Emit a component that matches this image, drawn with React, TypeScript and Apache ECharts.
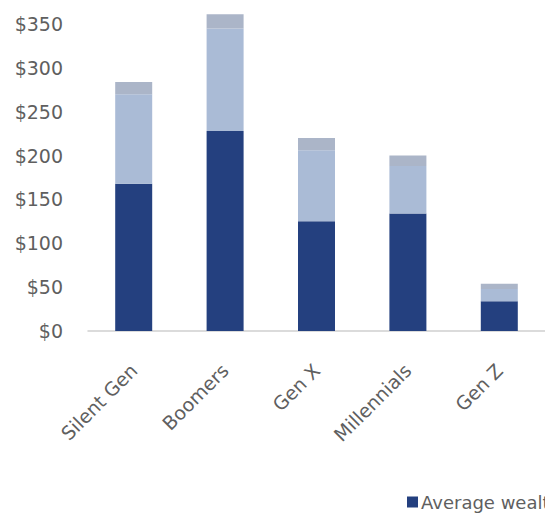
import React, { useEffect, useRef } from "react";
import * as echarts from "echarts";

const categories = ["Silent Gen", "Boomers", "Gen X", "Millennials", "Gen Z"];
const averageWealth = [168, 228, 125, 134, 34];
const upperSegment = [102, 117, 81, 54, 14];
const capSegment = [14, 16, 14, 12, 6];
const yTicks = [0, 50, 100, 150, 200, 250, 300, 350];

export default function App() {
  const ref = useRef<HTMLDivElement>(null);
  useEffect(() => {
    const chart = echarts.init(ref.current!, null, { renderer: "svg" });
    const font = "'DejaVu Sans', Verdana, sans-serif";
    chart.setOption({
      animation: false,
      backgroundColor: "#ffffff",
      grid: { left: 88, right: -3, top: 24, bottom: 183, containLabel: false },
      legend: {
        data: ["Average wealth"],
        left: 402,
        top: 488,
        itemWidth: 11,
        itemHeight: 11,
        itemGap: 3,
        icon: "rect",
        textStyle: { color: "#5f5f5f", fontSize: 18, fontFamily: font, padding: [0, 0, 0, -2] },
      },
      xAxis: {
        type: "category",
        data: categories,
        axisLine: { show: true, lineStyle: { color: "#cfcfcf", width: 1.5 } },
        axisTick: { show: false },
        axisLabel: {
          rotate: 45,
          margin: 36,
          color: "#5f5f5f",
          fontSize: 19,
          fontFamily: font,
        },
      },
      yAxis: {
        type: "value",
        min: 0,
        max: yTicks[yTicks.length - 1],
        interval: 50,
        splitLine: { show: false },
        axisLine: { show: false },
        axisTick: { show: false },
        axisLabel: {
          margin: 25,
          color: "#5f5f5f",
          fontSize: 19,
          fontFamily: font,
          formatter: (v: number) => "$" + v,
        },
      },
      series: [
        {
          name: "Average wealth",
          type: "bar",
          stack: "w",
          data: averageWealth,
          barWidth: 37,
          clip: false,
          itemStyle: { color: "#24407f" },
        },
        {
          name: "Upper",
          type: "bar",
          stack: "w",
          data: upperSegment,
          barWidth: 37,
          clip: false,
          itemStyle: { color: "#aabbd6" },
        },
        {
          name: "Cap",
          type: "bar",
          stack: "w",
          data: capSegment,
          barWidth: 37,
          clip: false,
          itemStyle: { color: "#abb5c8" },
        },
      ],
    });
    return () => chart.dispose();
  }, []);
  return <div ref={ref} style={{ width: 545, height: 514, position: "absolute", left: 0, top: 0 }} />;
}
